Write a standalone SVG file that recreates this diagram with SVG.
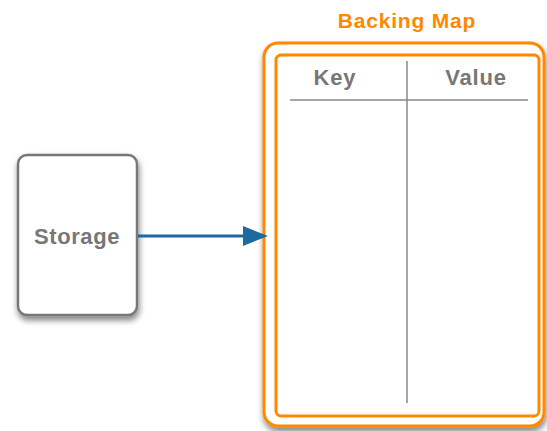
<svg xmlns="http://www.w3.org/2000/svg" width="547" height="431" viewBox="0 0 547 431">
<style>
.lbl{font-family:"Liberation Sans",Arial,sans-serif;font-weight:bold;fill:#777;text-anchor:middle}
.org{fill:none;stroke:#ff8800}
.grid{stroke:#888;stroke-width:1.5}
</style>
<defs>
<filter id="sh" x="-20%" y="-20%" width="150%" height="150%">
<feGaussianBlur in="SourceAlpha" stdDeviation="3"/>
<feOffset dx="1" dy="4" result="b"/>
<feComponentTransfer><feFuncA type="linear" slope="0.5"/></feComponentTransfer>
<feMerge><feMergeNode/><feMergeNode in="SourceGraphic"/></feMerge>
</filter>
</defs>
<g id="storage">
<rect x="18" y="155" width="119" height="160" rx="9" fill="#fff" stroke="#777" stroke-width="2.5" filter="url(#sh)"/>
<text class="lbl" x="77" y="244" font-size="22" letter-spacing="0.6">Storage</text>
</g>
<g id="backing-map">
<text x="407" y="28" font-family="Liberation Sans,Arial,sans-serif" font-weight="bold" font-size="21" letter-spacing="0.8" fill="#ff8800" text-anchor="middle">Backing Map</text>
<rect x="264" y="43" width="280" height="383" rx="14" fill="#fff" stroke="#ff8800" stroke-width="3" filter="url(#sh)"/>
<rect x="276" y="55" width="263" height="361" rx="5" class="org" stroke-width="3"/>
<line class="grid" x1="290" y1="100" x2="528" y2="100"/>
<line class="grid" x1="407" y1="61" x2="407" y2="403"/>
<text class="lbl" x="335" y="85" font-size="22" letter-spacing="0.8">Key</text>
<text class="lbl" x="476" y="85" font-size="22" letter-spacing="0.8">Value</text>
</g>
<g id="connectors">
<line x1="138" y1="236" x2="246" y2="236" stroke="#1d6aa0" stroke-width="3"/>
<polygon points="243,226 268,236 243,246" fill="#1d6aa0"/>
</g>
</svg>
